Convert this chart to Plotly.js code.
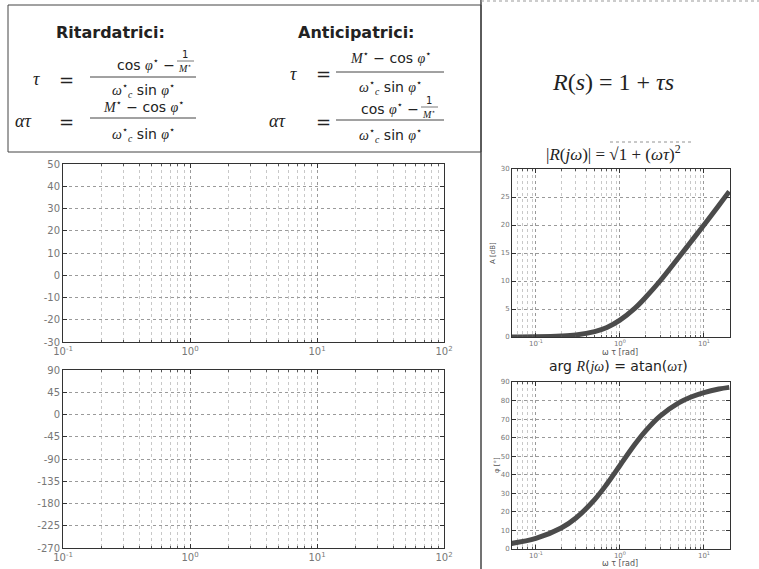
<!DOCTYPE html>
<html><head><meta charset="utf-8">
<script src="https://cdn.plot.ly/plotly-3.0.1.min.js"></script>
<style>body{margin:0;background:#fff}#g{width:759px;height:569px}</style>
</head><body><div id="g"></div>
<script>
// ---- data ----
const wtau = [0.05, 0.1, 0.2, 0.3, 0.5, 0.7, 1, 1.5, 2, 3, 5, 7, 10, 15, 20];
const magDB = [0.01, 0.04, 0.17, 0.37, 0.97, 1.7, 3.0, 5.1, 7.0, 10.0, 14.2, 17.0, 20.0, 23.5, 26.0];
const phaseDeg = [2.9, 5.7, 11.3, 16.7, 26.6, 35.0, 45.0, 56.3, 63.4, 71.6, 78.7, 81.9, 84.3, 86.2, 87.1];
const bodeMagTicks = [-30, -20, -10, 0, 10, 20, 30, 40, 50];
const bodeMagText = ['-30', '-20', '-10', '0', '10', '20', '30', '40', '50'];
const bodePhaseTicks = [-270, -225, -180, -135, -90, -45, 0, 45, 90];
const bodePhaseText = ['-270', '-225', '-180', '-135', '-90', '-45', '0', '45', '90'];
const decadeVals = [0.1, 1, 10, 100];
const decadeText = ['10<sup>-1</sup>', '10<sup>0</sup>', '10<sup>1</sup>', '10<sup>2</sup>'];
const smallDecadeVals = [0.1, 1, 10];
const smallDecadeText = ['10<sup>-1</sup>', '10<sup>0</sup>', '10<sup>1</sup>'];
const smallMagTicks = [0, 5, 10, 15, 20, 25, 30];
const smallPhaseTicks = [0, 10, 20, 30, 40, 50, 60, 70, 80, 90];

const W = 759, H = 569;
const px = x => x / W, py = y => 1 - y / H;

function minorVals(lo, hi) {
  const v = [];
  for (let e = lo; e < hi; e++) for (let k = 2; k <= 9; k++) v.push(k * Math.pow(10, e));
  return v;
}
const gridMajor = '#9a9a9a', gridMinor = '#c8c8c8';

function xLog(dom, range, fs, lo, hi, tv, tt) {
  return {
    type: 'log', domain: dom, range: range, tickmode: 'array', tickvals: tv, ticktext: tt,
    showgrid: true, gridcolor: gridMajor, griddash: 'dot', gridwidth: 1,
    minor: {tickmode: 'array', tickvals: minorVals(lo, hi), showgrid: true, gridcolor: gridMinor, griddash: 'dot', ticks: 'inside', ticklen: 2, tickcolor: '#555'},
    ticks: 'inside', ticklen: 4, tickcolor: '#333', showline: true, linecolor: '#333', linewidth: 1, mirror: 'ticks',
    tickfont: {family: 'DejaVu Sans', size: fs, color: '#777'}, zeroline: false, fixedrange: true
  };
}
function yLin(dom, range, ticks, fs, text) {
  const o = {
    domain: dom, range: range, tickmode: 'array', tickvals: ticks,
    showgrid: true, gridcolor: gridMajor, griddash: 'dot', gridwidth: 1,
    ticks: 'inside', ticklen: 4, tickcolor: '#333', showline: true, linecolor: '#333', linewidth: 1, mirror: 'ticks',
    tickfont: {family: 'DejaVu Sans', size: fs, color: '#777'}, zeroline: false, fixedrange: true
  };
  if (text) o.ticktext = text;
  return o;
}

const traces = [
  {x: [], y: [], xaxis: 'x', yaxis: 'y', type: 'scatter', showlegend: false},
  {x: [], y: [], xaxis: 'x2', yaxis: 'y2', type: 'scatter', showlegend: false},
  {x: wtau, y: magDB, xaxis: 'x3', yaxis: 'y3', type: 'scatter', mode: 'lines',
   line: {color: '#4b4b4b', width: 5, shape: 'spline', smoothing: 1}, showlegend: false},
  {x: wtau, y: phaseDeg, xaxis: 'x4', yaxis: 'y4', type: 'scatter', mode: 'lines',
   line: {color: '#4b4b4b', width: 5, shape: 'spline', smoothing: 1}, showlegend: false}
];

const xL = [px(63), px(444)];
const xR = [px(512), px(730)];
const rR = [Math.log10(0.052), Math.log10(20.4)];

const layout = {
  width: W, height: H, margin: {l: 0, r: 0, t: 0, b: 0},
  paper_bgcolor: '#fff', plot_bgcolor: '#fff', showlegend: false,
  xaxis: Object.assign(xLog(xL, [-1, 2], 10, -1, 2, decadeVals, decadeText), {anchor: 'y'}),
  yaxis: Object.assign(yLin([py(342), py(164)], [-30, 50], bodeMagTicks, 10, bodeMagText), {anchor: 'x'}),
  xaxis2: Object.assign(xLog(xL, [-1, 2], 10, -1, 2, decadeVals, decadeText), {anchor: 'y2'}),
  yaxis2: Object.assign(yLin([py(548), py(370)], [-270, 90], bodePhaseTicks, 10, bodePhaseText), {anchor: 'x2'}),
  xaxis3: Object.assign(xLog(xR, rR, 7, -2, 2, smallDecadeVals, smallDecadeText), {anchor: 'y3'}),
  yaxis3: Object.assign(yLin([py(337), py(169)], [0, 30], smallMagTicks, 7), {anchor: 'x3'}),
  xaxis4: Object.assign(xLog(xR, rR, 7, -2, 2, smallDecadeVals, smallDecadeText), {anchor: 'y4'}),
  yaxis4: Object.assign(yLin([py(549), py(382)], [0, 90], smallPhaseTicks, 7), {anchor: 'x4'}),
  shapes: [],
  annotations: []
};

const A = layout.annotations, S = layout.shapes;
function txt(x, y, t, size, opts) {
  A.push(Object.assign({xref: 'paper', yref: 'paper', x: px(x), y: py(y), text: t, showarrow: false,
    xanchor: 'center', yanchor: 'middle', font: {family: 'DejaVu Sans', size: size, color: '#222'}}, opts || {}));
}
function line(x0, y0, x1, y1, c, w, dash) {
  S.push({type: 'line', xref: 'paper', yref: 'paper', x0: px(x0), y0: py(y0), x1: px(x1), y1: py(y1),
    line: {color: c || '#333', width: w || 1, dash: dash || 'solid'}});
}

// frame lines
S.push({type: 'rect', xref: 'paper', yref: 'paper', x0: px(8), y0: py(152), x1: px(481), y1: py(5),
  line: {color: '#444', width: 1}});
line(481, 0, 481, 569, '#444', 1.5);
line(481, 1, 759, 1, '#999', 1, 'dot');

const SER = "Liberation Serif";
const it = s => `<i><span style="font-family:${SER}">${s}</span></i>`;
const phiS = it('φ') + '<sup>⋆</sup>';
const Ms = it('M') + '<sup>⋆</sup>';
const den = it('ω') + '<sup>⋆</sup><sub>' + it('c') + '</sub> sin ' + phiS;
const FS = 14;

// headers
txt(110, 32, '<b>Ritardatrici:</b>', 16);
txt(356, 32, '<b>Anticipatrici:</b>', 16);

// left block
txt(36, 79, it('τ'), 18);
txt(66, 79, '=', 18);
txt(177, 64, 'cos ' + phiS + ' −', FS, {xanchor: 'right'});
txt(185, 55, '1', 10);
line(177, 61, 194, 61, '#555', 0.8);
txt(185, 68, Ms, 10);
line(90, 77, 196, 77, '#444', 1);
txt(143, 90, den, FS);
txt(23, 121, it('ατ'), 18);
txt(66, 121, '=', 18);
txt(143, 106, Ms + ' − cos ' + phiS, FS);
line(90, 118, 196, 118, '#444', 1);
txt(143, 134, den, FS);

// right block
txt(293, 74, it('τ'), 18);
txt(323, 74, '=', 18);
txt(390, 57, Ms + ' − cos ' + phiS, FS);
line(336, 72, 444, 72, '#444', 1);
txt(390, 87, den, FS);
txt(277, 121, it('ατ'), 18);
txt(323, 121, '=', 18);
txt(421, 108, 'cos ' + phiS + ' −', FS, {xanchor: 'right'});
txt(429, 101, '1', 10);
line(421, 107, 438, 107, '#555', 0.8);
txt(429, 114, Ms, 10);
line(336, 120, 444, 120, '#444', 1);
txt(390, 135, den, FS);

// R(s)
txt(613, 82, it('R') + '(' + it('s') + ') = 1 + ' + it('τs'), 24, {font: {family: SER, size: 24, color: '#222'}});

// small plot titles and labels
txt(613, 153, '|' + it('R') + '(' + it('jω') + ')| = √1 + (' + it('ωτ') + ')<sup>2</sup>', 17, {font: {family: SER, size: 17, color: '#222'}});
line(610, 142, 694, 142, '#777', 0.8, 'dot');
txt(618, 366, 'arg ' + it('R') + '(' + it('jω') + ') = atan(' + it('ωτ') + ')', 14);
txt(620, 352, 'ω τ [rad]', 8, {font: {family: 'DejaVu Sans', size: 8, color: '#555'}});
txt(620, 563, 'ω τ [rad]', 8, {font: {family: 'DejaVu Sans', size: 8, color: '#555'}});
txt(493, 253, 'A [dB]', 7, {textangle: -90, font: {family: 'DejaVu Sans', size: 7, color: '#555'}});
txt(497, 465, 'φ [°]', 7, {textangle: -90, font: {family: 'DejaVu Sans', size: 7, color: '#555'}});

Plotly.newPlot('g', traces, layout, {staticPlot: true, displayModeBar: false});
</script></body></html>
